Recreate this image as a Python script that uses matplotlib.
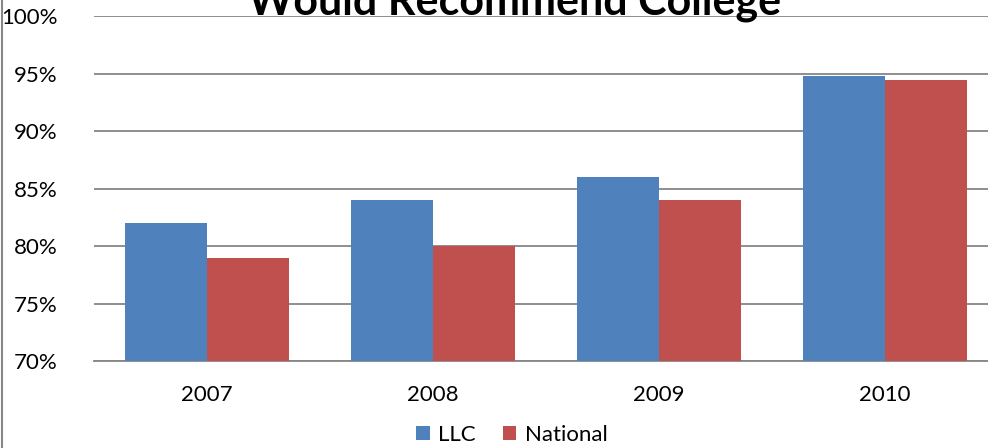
import matplotlib.pyplot as plt
import numpy as np
from matplotlib.lines import Line2D
from matplotlib.ticker import FuncFormatter

years = ["2007", "2008", "2009", "2010"]
llc = [82.0, 84.0, 86.0, 94.8]
national = [79.0, 80.0, 84.0, 94.4]
series_names = ["LLC", "National"]

plt.rcParams['font.family'] = ['Lato', 'DejaVu Sans']

fig = plt.figure(figsize=(9.88, 4.48), dpi=100)
# axes run a little past the right edge, as in the reference crop
ax = fig.add_axes([94 / 988, 1 - 361 / 448, 904 / 988, 345 / 448])

x = np.arange(len(years))
w = 0.364
ax.bar(x - w / 2, llc, w, color='#4F81BD', label=series_names[0], zorder=3)
ax.bar(x + w / 2, national, w, color='#C0504D', label=series_names[1], zorder=3)

ax.set_xlim(-0.5, len(years) - 0.5)
ax.set_ylim(70, 100)
ax.set_yticks(np.arange(70, 101, 5))
ax.yaxis.set_major_formatter(FuncFormatter(lambda v, p: '%d%%' % v))
ax.set_xticks(x)
ax.set_xticklabels(years)
ax.grid(axis='y', color='#868686', linewidth=1.3, zorder=0)
for s in ['top', 'right', 'left']:
    ax.spines[s].set_visible(False)
ax.spines['bottom'].set_color('#868686')
ax.spines['bottom'].set_linewidth(1.3)
ax.tick_params(axis='both', length=0, labelsize=16)
ax.tick_params(axis='y', pad=26)
ax.tick_params(axis='x', pad=17)

# title sits partly above the top edge, as in the reference
fig.text(515 / 988, 1 - 14 / 448, "Would Recommend College", ha='center',
         va='baseline', fontsize=31, fontweight='bold')

ax.legend(loc='center', bbox_to_anchor=(512 / 988, 1 - 435 / 448),
          bbox_transform=fig.transFigure, ncol=2, frameon=False,
          fontsize=16, handlelength=0.6, handleheight=0.6,
          handletextpad=0.4, columnspacing=1.2)

# outer chart-area border on the left edge
fig.add_artist(Line2D([1.5 / 988, 1.5 / 988], [0, 1], color='#868686',
                      linewidth=1.5, transform=fig.transFigure))

fig.savefig("out.png", dpi=100)
